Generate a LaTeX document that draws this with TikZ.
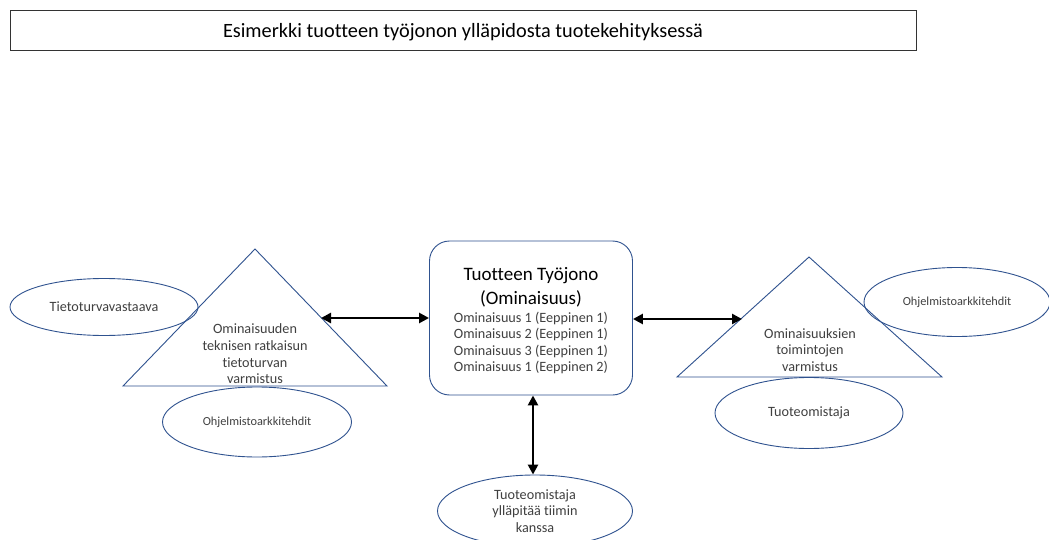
\documentclass[tikz,border=0pt]{standalone}
\usepackage{fontspec}
\setmainfont[Ligatures={NoCommon}]{Carlito}
\usetikzlibrary{shapes.geometric,arrows.meta}
\definecolor{shapeblue}{HTML}{2F528F}
\definecolor{txtgray}{HTML}{404040}
\tikzset{
  role/.style={draw=shapeblue, line width=0.9pt, ellipse, inner sep=0pt, text=txtgray, align=center},
  tri/.style={draw=shapeblue, line width=0.9pt},
  tritext/.style={text=txtgray, align=center, font=\fontsize{14.2}{16.7}\selectfont},
  link/.style={line width=2.6pt, {Triangle[length=10pt,width=10pt]}-{Triangle[length=10pt,width=10pt]}},
}
\begin{document}
\begin{tikzpicture}[x=1pt,y=-1pt]
\useasboundingbox[fill=white] (0,0) rectangle (1049,540);
% title
\node[draw=black!80, line width=0.8pt, minimum width=906pt, minimum height=40pt, inner sep=0pt] (title) at (463,30) {};
\node[font=\fontsize{20.3}{22}\selectfont] (titletext) at (463,32) {Esimerkki tuotteen työjonon ylläpidosta tuotekehityksessä};
% left triangle
\coordinate (lA) at (255,249);
\coordinate (lB) at (123,386);
\coordinate (lC) at (387,386);
\draw[tri] (lA) -- (lB) -- (lC) -- cycle;
\coordinate (lE) at (321,318);
\node[tritext] (ltext) at (255,354) {Ominaisuuden\\teknisen ratkaisun\\tietoturvan\\varmistus};
\node[role, minimum width=188pt, minimum height=57pt, font=\fontsize{14.2}{16}\selectfont] (tvv) at (104,307) {Tietoturvavastaava};
\node[role, minimum width=189pt, minimum height=70pt, font=\fontsize{12.3}{14}\selectfont] (oal) at (257,422) {Ohjelmistoarkkitehdit};
% right triangle
\coordinate (rA) at (809,257);
\coordinate (rB) at (677,377);
\coordinate (rC) at (942,377);
\draw[tri] (rA) -- (rB) -- (rC) -- cycle;
\coordinate (rE) at (742,319);
\node[tritext] (rtext) at (810,350) {Ominaisuuksien\\toimintojen\\varmistus};
\node[role, minimum width=186pt, minimum height=69pt, font=\fontsize{12.3}{14}\selectfont] (oar) at (957,302) {Ohjelmistoarkkitehdit};
\node[role, minimum width=188pt, minimum height=71pt, font=\fontsize{14.2}{16}\selectfont] (to) at (809,413) {Tuoteomistaja};
% center box
\node[draw=shapeblue, line width=0.9pt, rounded corners=20pt, minimum width=203pt, minimum height=154pt, inner sep=0pt] (box) at (531,318) {};
\node[align=center, font=\fontsize{19}{24}\selectfont] (boxtitle) at (531,287) {Tuotteen Työjono\\(Ominaisuus)};
\node[align=center, text=txtgray, font=\fontsize{14.2}{16.4}\selectfont] (boxlist) at (531,343) {Ominaisuus 1 (Eeppinen 1)\\Ominaisuus 2 (Eeppinen 1)\\Ominaisuus 3 (Eeppinen 1)\\Ominaisuus 1 (Eeppinen 2)};
% bottom ellipse
\node[role, minimum width=195pt, minimum height=72pt, font=\fontsize{14.2}{16.7}\selectfont] (team) at (535,511) {Tuoteomistaja\\ylläpitää tiimin\\kanssa};
% arrows
\draw[link] (lE) -- (box.west |- lE);
\draw[link] (box.east |- rE) -- (rE);
\draw[link] (box.south -| 533,0) -- (team.north -| 533,0);
\end{tikzpicture}
\end{document}
